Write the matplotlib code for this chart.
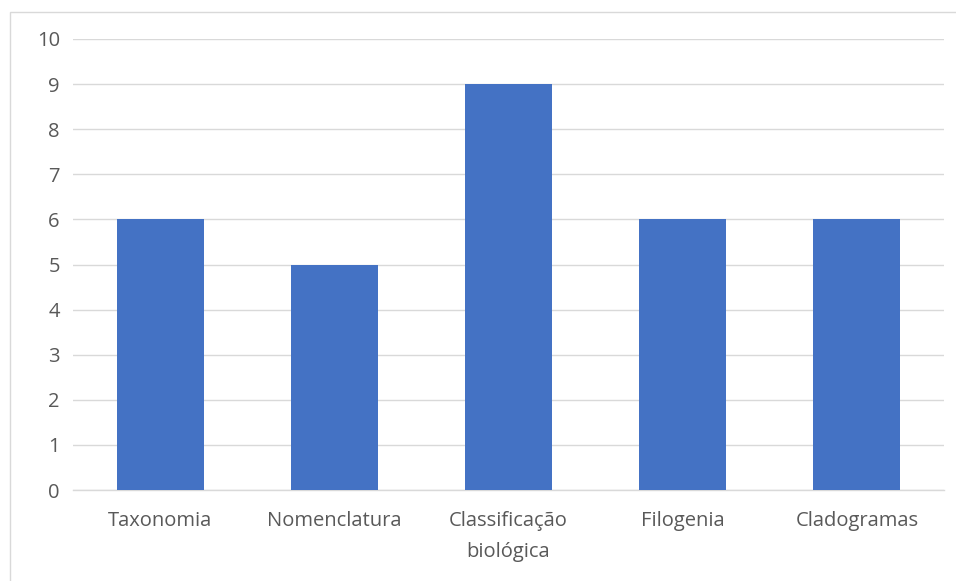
import matplotlib
matplotlib.use("Agg")
import matplotlib.pyplot as plt
from matplotlib.patches import Rectangle

categories = ["Taxonomia", "Nomenclatura", "Classificação\nbiológica", "Filogenia", "Cladogramas"]
values = [6, 5, 9, 6, 6]
yticks = list(range(0, 11))

W, H = 956, 581
plt.rcParams['font.family'] = ['Open Sans', 'DejaVu Sans']
fig = plt.figure(figsize=(W / 100, H / 100), dpi=100)
fig.patch.set_facecolor('white')

# chart border (only top and left visible)
fig.patches.append(Rectangle((10 / W, -0.1), 1.2, 1.1 - 12 / H, transform=fig.transFigure,
                             fill=False, edgecolor='#D9D9D9', linewidth=1.0))

ax = fig.add_axes([73 / W, (H - 490) / H, (944 - 73) / W, (490 - 39) / H])
x = list(range(len(categories)))
ax.bar(x, values, width=0.5, color='#4472C4', zorder=3)
ax.set_xlim(-0.5, len(categories) - 0.5)
ax.set_ylim(0, 10)
ax.set_yticks(yticks)
ax.set_yticklabels([str(t) for t in yticks])
ax.set_xticks(x)
ax.set_xticklabels(categories, linespacing=1.72)
ax.grid(axis='y', color='#D9D9D9', linewidth=1.0, zorder=0)
for s in ['top', 'right', 'left']:
    ax.spines[s].set_visible(False)
ax.spines['bottom'].set_color('#D9D9D9')
ax.spines['bottom'].set_linewidth(1.0)
ax.tick_params(axis='both', length=0, colors='#595959', labelsize=14.5)
ax.tick_params(axis='y', pad=9.5)
ax.tick_params(axis='x', pad=15)

fig.savefig('out.png', dpi=100, facecolor='white')
